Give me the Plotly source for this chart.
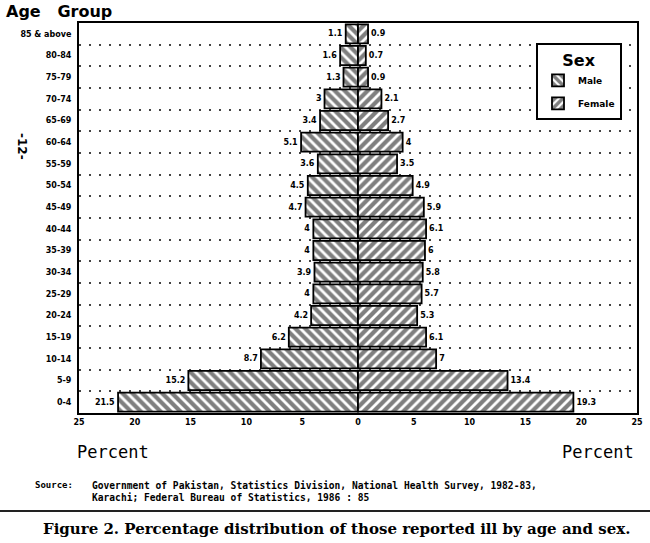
import plotly.graph_objects as go

age_groups = ["85 & above", "80-84", "75-79", "70-74", "65-69", "60-64", "55-59",
              "50-54", "45-49", "40-44", "35-39", "30-34", "25-29", "20-24",
              "15-19", "10-14", "5-9", "0-4"]
male = [1.1, 1.6, 1.3, 3, 3.4, 5.1, 3.6, 4.5, 4.7, 4, 4, 3.9, 4, 4.2, 6.2, 8.7, 15.2, 21.5]
female = [0.9, 0.7, 0.9, 2.1, 2.7, 4, 3.5, 4.9, 5.9, 6.1, 6, 5.8, 5.7, 5.3, 6.1, 7, 13.4, 19.3]
tick_vals = [-25, -20, -15, -10, -5, 0, 5, 10, 15, 20, 25]
tick_text = ["25", "20", "15", "10", "5", "0", "5", "10", "15", "20", "25"]

lab_font = dict(family="DejaVu Sans", size=8, color="black", weight="bold")

fig = go.Figure()
fig.add_trace(go.Bar(
    y=age_groups, x=[-v for v in male], orientation="h", name="Male",
    legendgroup="m",
    text=[f"{v:g}" for v in male], textposition="outside", textfont=lab_font,
    cliponaxis=False,
    marker=dict(color="white", line=dict(color="black", width=1.8),
                pattern=dict(shape="\\", fgcolor="black", bgcolor="white",
                             size=7, solidity=0.6)),
    hoverinfo="skip",
))
fig.add_trace(go.Bar(
    y=age_groups, x=female, orientation="h", name="Female",
    legendgroup="f",
    text=[f"{v:g}" for v in female], textposition="outside", textfont=lab_font,
    cliponaxis=False,
    marker=dict(color="white", line=dict(color="black", width=1.8),
                pattern=dict(shape="/", fgcolor="black", bgcolor="white",
                             size=7, solidity=0.6)),
    hoverinfo="skip",
))

ml, mr, mt, mb = 79, 13, 23, 130
W, H = 650, 543
pw, ph = W - ml - mr, H - mt - mb

def px(x):
    return (x - ml) / pw

def py(y):
    return (H - mb - y) / ph

fig.update_layout(
    width=W, height=H,
    margin=dict(l=ml, r=mr, t=mt, b=mb, autoexpand=False),
    barmode="relative", bargap=0.12,
    plot_bgcolor="white", paper_bgcolor="white",
    font=dict(family="DejaVu Sans", color="black"),
    legend=dict(
        x=px(536), y=py(43), xanchor="left", yanchor="top",
        bgcolor="white", bordercolor="black", borderwidth=2,
        title=dict(text="<b>Sex</b>", font=dict(size=16, family="DejaVu Sans"), side="top center"),
        font=dict(size=9, family="DejaVu Sans", weight="bold"),
        itemwidth=30, tracegroupgap=4,
    ),
    xaxis=dict(
        range=[-25, 25], tickmode="array", tickvals=tick_vals, ticktext=tick_text,
        showgrid=False, zeroline=False, showline=True, linecolor="black", linewidth=2,
        mirror=True, ticks="", automargin=False,
        tickfont=dict(size=8, family="DejaVu Sans", weight="bold"),
    ),
    yaxis=dict(
        type="category", autorange="reversed", tickson="boundaries",
        showgrid=True, gridcolor="#444", gridwidth=2, griddash="2px,8px",
        showline=True, linecolor="black", linewidth=2, mirror=True, ticks="",
        automargin=False,
        tickfont=dict(size=8, family="DejaVu Sans", weight="bold"),
        ticklabelstandoff=4,
    ),
)

anns = [
    dict(text="Age   Group", x=px(4), y=py(11), xanchor="left", yanchor="middle",
         font=dict(size=16, family="DejaVu Sans", weight="bold")),
    dict(text="Percent", x=px(113), y=py(452), xanchor="center", yanchor="middle",
         font=dict(size=17, family="DejaVu Sans Mono")),
    dict(text="Percent", x=px(598), y=py(452), xanchor="center", yanchor="middle",
         font=dict(size=17, family="DejaVu Sans Mono")),
    dict(text="Source:", x=px(33), y=py(485), xanchor="left", yanchor="middle",
         font=dict(size=9, family="DejaVu Sans Mono", weight="bold")),
    dict(text="Government of Pakistan, Statistics Division, National Health Survey, 1982-83,",
         x=px(90), y=py(485), xanchor="left", yanchor="middle",
         font=dict(size=9.6, family="DejaVu Sans Mono", weight="bold")),
    dict(text="Karachi; Federal Bureau of Statistics, 1986 : 85",
         x=px(90), y=py(497), xanchor="left", yanchor="middle",
         font=dict(size=9.6, family="DejaVu Sans Mono", weight="bold")),
    dict(text="Figure 2. Percentage distribution of those reported ill by age and sex.",
         x=px(336), y=py(529), xanchor="center", yanchor="middle",
         font=dict(size=15, family="DejaVu Serif", weight="bold")),
    dict(text="-12-", x=px(22), y=py(147), xanchor="center", yanchor="middle",
         textangle=90, font=dict(size=12, family="DejaVu Sans", weight="bold")),
]
for a in anns:
    a.update(xref="paper", yref="paper", showarrow=False)
fig.update_layout(annotations=anns)

fig.add_shape(type="line", xref="paper", yref="paper",
              x0=px(0), x1=px(650), y0=py(511), y1=py(511),
              line=dict(color="#222", width=2))

fig.write_html("out.html", config={"displayModeBar": False},
               post_script="document.body.style.margin='0';")
